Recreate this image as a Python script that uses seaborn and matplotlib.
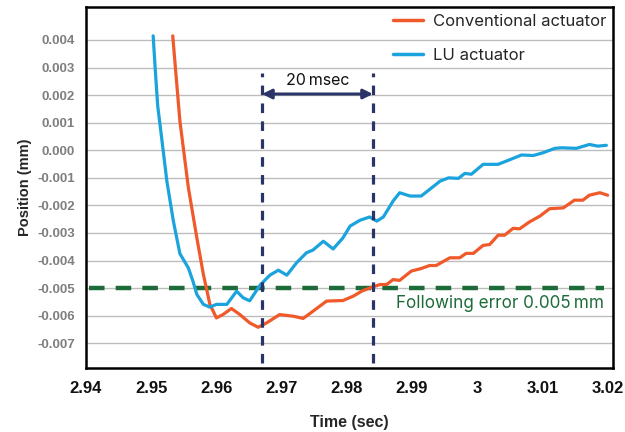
import matplotlib
matplotlib.use("Agg")
import matplotlib.pyplot as plt
import seaborn as sns
import pandas as pd

# values
lu_time = [2.9503, 2.9506, 2.9510, 2.9516, 2.9524, 2.9534, 2.9544, 2.9557, 2.9564, 2.9570, 2.9580,
           2.9590, 2.9600, 2.9616, 2.9631, 2.9641, 2.9651, 2.9667, 2.9682, 2.9695, 2.9708,
           2.9723, 2.9738, 2.9748, 2.9764, 2.9779, 2.9794, 2.9805, 2.9820, 2.9835, 2.9846,
           2.9856, 2.9871, 2.9881, 2.9897, 2.9914, 2.9927, 2.9943, 2.9956, 2.9971, 2.9981,
           2.9991, 3.0009, 3.0032, 3.0047, 3.0068, 3.0086, 3.0101, 3.0119, 3.0129, 3.0152,
           3.0172, 3.0185, 3.0198]
lu_pos = [0.00415, 0.00300, 0.00160, 0.00045, -0.00112, -0.00257, -0.00375, -0.00427, -0.00475, -0.00523, -0.00559,
          -0.00569, -0.00559, -0.00559, -0.00511, -0.00535, -0.00546, -0.00489, -0.00453, -0.00435, -0.00453,
          -0.00408, -0.00372, -0.00362, -0.00330, -0.00358, -0.00318, -0.00275, -0.00254, -0.00242, -0.00257,
          -0.00242, -0.00184, -0.00154, -0.00166, -0.00166, -0.00142, -0.00112, -0.00100, -0.00102, -0.00084,
          -0.00087, -0.00051, -0.00051, -0.00037, -0.00017, -0.00019, -0.00009, 0.00007, 0.00009, 0.00007,
          0.00021, 0.00015, 0.00018]

conv_time = [2.9533, 2.9544, 2.9557, 2.9570, 2.9580, 2.9590, 2.9600, 2.9610, 2.9623, 2.9636,
             2.9651, 2.9664, 2.9677, 2.9697, 2.9718, 2.9733, 2.9748, 2.9769, 2.9794, 2.9810,
             2.9823, 2.9838, 2.9851, 2.9861, 2.9871, 2.9881, 2.9899, 2.9914, 2.9927, 2.9937,
             2.9958, 2.9973, 2.9983, 2.9994, 3.0009, 3.0019, 3.0032, 3.0042, 3.0055, 3.0065,
             3.0080, 3.0096, 3.0111, 3.0132, 3.0149, 3.0162, 3.0172, 3.0188, 3.0200]
conv_pos = [0.00415, 0.00106, -0.00136, -0.00318, -0.00450, -0.00559, -0.00608, -0.00596, -0.00574, -0.00596,
            -0.00626, -0.00642, -0.00626, -0.00596, -0.00602, -0.00610, -0.00584, -0.00547, -0.00545, -0.00529,
            -0.00511, -0.00497, -0.00487, -0.00487, -0.00469, -0.00472, -0.00438, -0.00429, -0.00418, -0.00418,
            -0.00390, -0.00390, -0.00374, -0.00374, -0.00345, -0.00342, -0.00308, -0.00308, -0.00283, -0.00285,
            -0.00260, -0.00239, -0.00212, -0.00209, -0.00181, -0.00181, -0.00163, -0.00154, -0.00163]

x_ticks = [2.94, 2.95, 2.96, 2.97, 2.98, 2.99, 3.00, 3.01, 3.02]
x_tick_labels = ["2.94", "2.95", "2.96", "2.97", "2.98", "2.99", "3", "3.01", "3.02"]
y_ticks = [0.004, 0.003, 0.002, 0.001, 0.0, -0.001, -0.002, -0.003, -0.004, -0.005, -0.006, -0.007]
y_tick_labels = ["0.004", "0.003", "0.002", "0.001", "0.000", "-0.001", "-0.002", "-0.003",
                 "-0.004", "-0.005", "-0.006", "-0.007"]
window_start, window_end = 2.967, 2.984
error_limit = -0.005

df = pd.concat([
    pd.DataFrame({"time": conv_time, "pos": conv_pos, "series": "Conventional actuator"}),
    pd.DataFrame({"time": lu_time, "pos": lu_pos, "series": "LU actuator"}),
])

sns.set_style("white")
plt.rcParams["font.family"] = ["Liberation Sans", "DejaVu Sans"]

fig = plt.figure(figsize=(6.25, 4.32), dpi=100)
ax = fig.add_axes([0.1376, 0.148, 0.843, 0.836])

ax.grid(axis="y", color="#bdbdbd", linewidth=1)
ax.set_axisbelow(True)

sns.lineplot(data=df, x="time", y="pos", hue="series",
             palette={"Conventional actuator": "#f0592a", "LU actuator": "#1aa3dc"},
             linewidth=2.3, ax=ax, sort=False, estimator=None)

# following error limit
ax.hlines(error_limit, 2.9405, 3.0195, colors="#1e6b3a", linewidth=3.2,
          linestyles=(0, (3.5, 2.5)), zorder=1.5)
ax.text(3.0195, -0.00555, "Following error 0.005\u2009mm", color="#1e6b3a",
        fontsize=12.3, family="Inter", ha="right", va="center",
        bbox=dict(facecolor="white", edgecolor="none", pad=1.5))

# 20 msec window
ax.vlines([window_start, window_end], -0.0077, 0.0028, colors="#2b3467",
          linewidth=2.3, linestyles=(0, (3, 2.6)), zorder=3)
ax.annotate("", xy=(window_start, 0.00204), xytext=(window_end, 0.00204),
            arrowprops=dict(arrowstyle="<|-|>", color="#2b3467", lw=2.2,
                            mutation_scale=14, shrinkA=0, shrinkB=0))
ax.text((window_start + window_end) / 2, 0.00252, "20\u2009msec", fontsize=11.5,
        family="Inter", ha="center", va="center", color="#111111")

ax.set_xlim(2.94, 3.0208)
ax.set_ylim(-0.0079, 0.0052)
ax.set_xticks(x_ticks)
ax.set_xticklabels(x_tick_labels, fontsize=12, fontweight="bold", color="#111111")
ax.set_yticks(y_ticks)
ax.set_yticklabels(y_tick_labels, fontsize=9.5, fontweight="bold", color="#7f7f7f")
ax.tick_params(axis="x", direction="inout", length=6, width=1.3, pad=6)
ax.tick_params(axis="y", length=0, pad=8)
for s in ax.spines.values():
    s.set_visible(True)
    s.set_color("black")
    s.set_linewidth(1.8)

ax.set_xlabel("Time (sec)", fontsize=11.5, fontweight="bold", labelpad=14)
ax.set_ylabel("Position (mm)", fontsize=10.5, fontweight="bold", labelpad=4)

leg = ax.legend(loc="upper right", bbox_to_anchor=(1.006, 1.005), frameon=False,
                prop={"family": "Inter", "size": 12}, handlelength=1.8,
                labelspacing=1.1, borderaxespad=0.15, handletextpad=0.6)
for line in leg.get_lines():
    line.set_linewidth(2.5)

fig.savefig("out.png", dpi=100)
